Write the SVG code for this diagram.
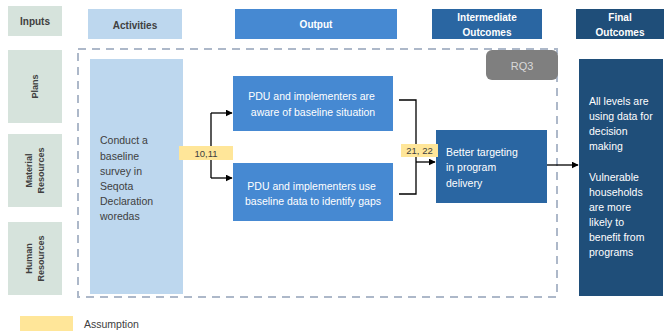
<svg xmlns="http://www.w3.org/2000/svg" width="664" height="333" viewBox="0 0 664 333">
  <defs>
    <marker id="arr" viewBox="0 0 10 10" refX="9" refY="5" markerWidth="7" markerHeight="7" markerUnits="userSpaceOnUse" orient="auto">
      <path d="M0,0 L10,5 L0,10 z" fill="#000"/>
    </marker>
    <style>
      text { font-family: "Liberation Sans", Arial, sans-serif; }
      .hdr { font-size: 10px; font-weight: bold; text-anchor: middle; }
      .dark { fill: #404040; }
      .light { fill: #ffffff; }
      .side { font-size: 9px; font-weight: bold; fill: #404040; text-anchor: middle; }
      .body { font-size: 10.5px; }
      .tag { font-size: 9.5px; fill: #404040; text-anchor: middle; }
      .conn { fill: none; stroke: #000; stroke-width: 1.3; }
      .inp { fill: #d6e3dc; }
      .act { fill: #bdd7ee; }
      .out { fill: #4689d2; }
      .mid { fill: #2a66a2; }
      .fin { fill: #1f4e79; }
      .asm { fill: #ffe699; }
    </style>
  </defs>

  <rect width="664" height="333" fill="#ffffff"/>

  <!-- column headers -->
  <g id="hdr-inputs">
    <rect class="inp" x="8" y="6" width="54" height="30"/>
    <text class="hdr dark" x="35" y="25">Inputs</text>
  </g>
  <g id="hdr-activities">
    <rect class="act" x="88" y="9" width="94" height="30"/>
    <text class="hdr dark" x="135" y="29">Activities</text>
  </g>
  <g id="hdr-output">
    <rect class="out" x="235" y="9" width="162" height="30"/>
    <text class="hdr light" x="316" y="28">Output</text>
  </g>
  <g id="hdr-intermediate">
    <rect class="mid" x="432" y="9" width="110" height="30"/>
    <text class="hdr light" x="487" y="21">Intermediate</text>
    <text class="hdr light" x="487" y="36">Outcomes</text>
  </g>
  <g id="hdr-final">
    <rect class="fin" x="576" y="9" width="88" height="30"/>
    <text class="hdr light" x="620" y="21">Final</text>
    <text class="hdr light" x="620" y="36">Outcomes</text>
  </g>

  <!-- input rows -->
  <g id="in-plans">
    <rect class="inp" x="8" y="50" width="54" height="73"/>
    <text class="side" transform="translate(38,86.5) rotate(-90)">Plans</text>
  </g>
  <g id="in-material">
    <rect class="inp" x="8" y="134" width="54" height="73"/>
    <text class="side" transform="translate(32,170.5) rotate(-90)">Material</text>
    <text class="side" transform="translate(44,170.5) rotate(-90)">Resources</text>
  </g>
  <g id="in-human">
    <rect class="inp" x="8" y="222" width="54" height="73"/>
    <text class="side" transform="translate(32,258.5) rotate(-90)">Human</text>
    <text class="side" transform="translate(44,258.5) rotate(-90)">Resources</text>
  </g>

  <!-- RQ3 scope boundary -->
  <g id="rq3-scope">
    <path d="M78,49 H557 V297 H78 Z" fill="none" stroke="#adb8c9" stroke-width="2" stroke-dasharray="8,6"/>
    <rect x="486" y="50" width="72" height="30" rx="6" fill="#7f7f7f"/>
    <text x="522" y="70" font-size="11" fill="#d9d9d9" text-anchor="middle">RQ3</text>
  </g>

  <!-- activity -->
  <g id="activity">
    <rect class="act" x="90" y="59" width="93" height="235"/>
    <text class="body dark" x="100">
      <tspan x="100" y="144">Conduct a</tspan>
      <tspan x="100" y="159.5">baseline</tspan>
      <tspan x="100" y="174.5">survey in</tspan>
      <tspan x="100" y="189.5">Seqota</tspan>
      <tspan x="100" y="204.5">Declaration</tspan>
      <tspan x="100" y="219.5">woredas</tspan>
    </text>
  </g>

  <!-- outputs -->
  <g id="output-aware">
    <rect class="out" x="233" y="76" width="160" height="55"/>
    <text class="body light" text-anchor="middle">
      <tspan x="313" y="100">PDU and implementers are</tspan>
      <tspan x="313" y="115.5">aware of baseline situation</tspan>
    </text>
  </g>
  <g id="output-use">
    <rect class="out" x="233" y="163" width="160" height="58"/>
    <text class="body light" text-anchor="middle">
      <tspan x="313" y="189.5">PDU and implementers use</tspan>
      <tspan x="313" y="205">baseline data to identify gaps</tspan>
    </text>
  </g>

  <!-- intermediate outcome -->
  <g id="intermediate">
    <rect class="mid" x="436" y="130" width="111" height="73"/>
    <text class="body light">
      <tspan x="446" y="156">Better targeting</tspan>
      <tspan x="446" y="171">in program</tspan>
      <tspan x="446" y="186.5">delivery</tspan>
    </text>
  </g>

  <!-- final outcomes -->
  <g id="final">
    <rect class="fin" x="579" y="59" width="84" height="237"/>
    <text class="body light">
      <tspan x="589" y="104.5">All levels are</tspan>
      <tspan x="589" y="119.5">using data for</tspan>
      <tspan x="589" y="134.5">decision</tspan>
      <tspan x="589" y="149.5">making</tspan>
      <tspan x="589" y="180.5">Vulnerable</tspan>
      <tspan x="589" y="195.5">households</tspan>
      <tspan x="589" y="210.5">are more</tspan>
      <tspan x="589" y="225.5">likely to</tspan>
      <tspan x="589" y="240.5">benefit from</tspan>
      <tspan x="589" y="255.5">programs</tspan>
    </text>
  </g>

  <!-- connectors -->
  <g id="connectors">
    <path class="conn" d="M211,113 V178"/>
    <path class="conn" d="M211,113 H232" marker-end="url(#arr)"/>
    <path class="conn" d="M211,178 H232" marker-end="url(#arr)"/>
    <path class="conn" d="M399,100 H416 V194 H399"/>
    <path class="conn" d="M416,162 H435" marker-end="url(#arr)"/>
    <path class="conn" d="M547,165 H578" marker-end="url(#arr)"/>
  </g>

  <!-- assumption tags -->
  <g id="tag-10-11">
    <rect class="asm" x="179" y="146" width="54" height="14"/>
    <text class="tag" x="206" y="156.5">10,11</text>
  </g>
  <g id="tag-21-22">
    <rect class="asm" x="401" y="144" width="37" height="13"/>
    <text class="tag" x="419.5" y="154">21, 22</text>
  </g>

  <!-- legend -->
  <g id="legend">
    <rect class="asm" x="20" y="316" width="53" height="15"/>
    <text x="84" y="328" font-size="10.5" fill="#404040">Assumption</text>
  </g>
</svg>
